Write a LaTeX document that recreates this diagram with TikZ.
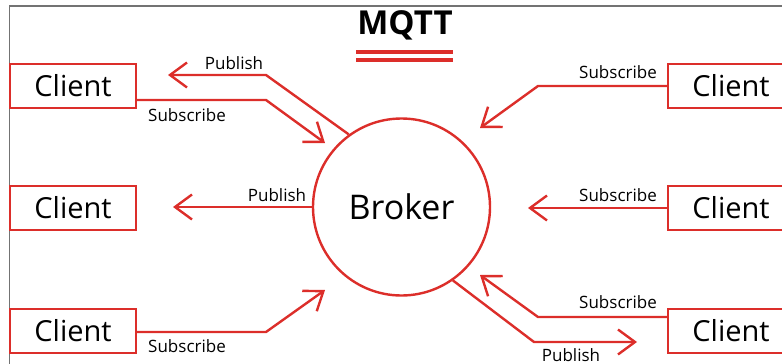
\documentclass[tikz,border=0pt]{standalone}
\usepackage{fontspec}
\setmainfont{Open Sans}
\usetikzlibrary{arrows.meta}
\definecolor{mqttred}{RGB}{220,46,42}
\tikzset{
  client/.style={draw=mqttred, line width=2.4pt, minimum width=126pt, minimum height=44pt, inner sep=0pt, font=\fontsize{29}{30}\selectfont},
  msg/.style={inner sep=0pt, font=\fontsize{17}{18}\selectfont},
  flow/.style={draw=mqttred, line width=2.4pt, -{Straight Barb[length=17pt,width=25pt]}},
}
\begin{document}
\begin{tikzpicture}[x=1pt,y=-1pt]
\useasboundingbox (0,0) rectangle (782,364);
\draw[gray!90!black, line width=1.5pt] (9.5,364) -- (9.5,6) -- (782,6);
\node[inner sep=0pt, font=\bfseries\fontsize{33}{34}\selectfont] (title) at (405,25) {MQTT};
\draw[mqttred, line width=4pt] (356,52) -- (453,52) (356,60) -- (453,60);

\node[circle, draw=mqttred, line width=2.4pt, minimum size=177pt, font=\fontsize{34}{36}\selectfont] (broker) at (401.5,207) {Broker};

\node[client] (clientTL) at (73,86) {Client};
\node[client] (clientML) at (73,208) {Client};
\node[client] (clientBL) at (73,331) {Client};
\node[client] (clientTR) at (731,86) {Client};
\node[client] (clientMR) at (731,208) {Client};
\node[client] (clientBR) at (731,331) {Client};

\coordinate (bendTLp) at (266,75);
\coordinate (tipTLp) at (168,75);
\coordinate (bendTLs) at (266,100);
\coordinate (tipTLs) at (325,143);
\coordinate (bendTRs) at (538,86);
\coordinate (tipTRs) at (480,128);
\coordinate (tipML) at (173,207);
\coordinate (tipMR) at (528,208);
\coordinate (bendBLs) at (266,332);
\coordinate (tipBLs) at (325,290);
\coordinate (bendBRs) at (538,317);
\coordinate (tipBRs) at (480,275);
\coordinate (bendBRp) at (534,342);
\coordinate (tipBRp) at (637,342);

\draw[flow] (broker.126) -- (bendTLp) -- (tipTLp);
\draw[flow] ([yshift=-14pt]clientTL.east) -- (bendTLs) -- (tipTLs);
\draw[flow] (clientTR.west) -- (bendTRs) -- (tipTRs);
\draw[flow] (broker.west) -- (tipML);
\draw[flow] (clientMR.west) -- (tipMR);
\draw[flow] ([yshift=-1pt]clientBL.east) -- (bendBLs) -- (tipBLs);
\draw[flow] ([yshift=14pt]clientBR.west) -- (bendBRs) -- (tipBRs);
\draw[flow] (broker.305) -- (bendBRp) -- (tipBRp);

\node[msg] (pubTL) at (234,63) {Publish};
\node[msg] (subTL) at (187,115) {Subscribe};
\node[msg] (subTR) at (618,72) {Subscribe};
\node[msg] (pubML) at (277,195) {Publish};
\node[msg] (subMR) at (618,195) {Subscribe};
\node[msg] (subBL) at (187,346) {Subscribe};
\node[msg] (subBR) at (618,302) {Subscribe};
\node[msg] (pubBR) at (571,355) {Publish};
\end{tikzpicture}
\end{document}
